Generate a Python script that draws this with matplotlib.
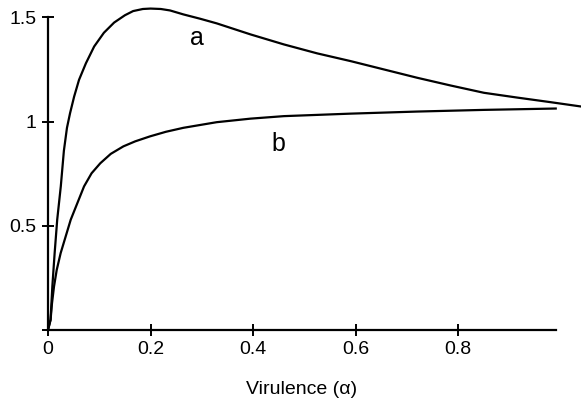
import numpy as np
import matplotlib.pyplot as plt

plt.rcParams['font.family'] = ['Liberation Sans', 'DejaVu Sans']

# curve a
aX = [0.0, 0.005, 0.0085, 0.013, 0.018, 0.025, 0.031, 0.037, 0.043, 0.051, 0.0605,
      0.074, 0.090, 0.109, 0.129, 0.150, 0.166, 0.185, 0.200, 0.220, 0.238, 0.264,
      0.297, 0.329, 0.395, 0.460, 0.525, 0.590, 0.655, 0.720, 0.785, 0.850, 0.915,
      0.980, 1.040]
aY = [0.0, 0.05, 0.21, 0.37, 0.53, 0.69, 0.86, 0.97, 1.04, 1.12, 1.20,
      1.28, 1.36, 1.426, 1.475, 1.51, 1.53, 1.54, 1.542, 1.54, 1.533, 1.514,
      1.493, 1.471, 1.418, 1.37, 1.327, 1.29, 1.25, 1.21, 1.173, 1.138, 1.115,
      1.093, 1.072]

# curve b
bX = [0.0, 0.005, 0.0078, 0.0117, 0.017, 0.0247, 0.0345, 0.0443, 0.0573, 0.0703,
      0.0850, 0.102, 0.1224, 0.147, 0.170, 0.199, 0.230, 0.264, 0.329, 0.395,
      0.460, 0.590, 0.720, 0.850, 0.990]
bY = [0.0, 0.048, 0.128, 0.208, 0.288, 0.369, 0.449, 0.529, 0.609, 0.689,
      0.752, 0.80, 0.845, 0.881, 0.905, 0.929, 0.951, 0.97, 0.997, 1.014,
      1.026, 1.038, 1.048, 1.056, 1.0625]

xTicks = [0, 0.2, 0.4, 0.6, 0.8]
xTickLabels = ['0', '0.2', '0.4', '0.6', '0.8']
yTicks = [0, 0.5, 1, 1.5]
yTickLabels = ['', '0.5', '1', '1.5']

fig = plt.figure(figsize=(5.81, 4.03), dpi=100)
ax = fig.add_axes([0.0826, 0.1811, 0.8739, 0.7759])

ax.plot(aX, aY, color='black', lw=1.6, clip_on=False, solid_joinstyle='round')
ax.plot(bX, bY, color='black', lw=1.6, clip_on=False, solid_joinstyle='round')

ax.text(0.291, 1.365, 'a', fontsize=18, ha='center', va='baseline')
ax.text(0.450, 0.857, 'b', fontsize=18, ha='center', va='baseline')

ax.set_xlim(0, 0.99)
ax.set_ylim(0, 1.5)
ax.set_xticks(xTicks)
ax.set_xticklabels(xTickLabels)
ax.set_yticks(yTicks)
ax.set_yticklabels(yTickLabels)

for s in ['top', 'right']:
    ax.spines[s].set_visible(False)
for s in ['left', 'bottom']:
    ax.spines[s].set_linewidth(1.6)

ax.tick_params(direction='inout', length=8.5, width=1.4, labelsize=14, pad=4)
ax.set_xlabel('Virulence (α)', fontsize=14, labelpad=16)

fig.savefig('out.png')
